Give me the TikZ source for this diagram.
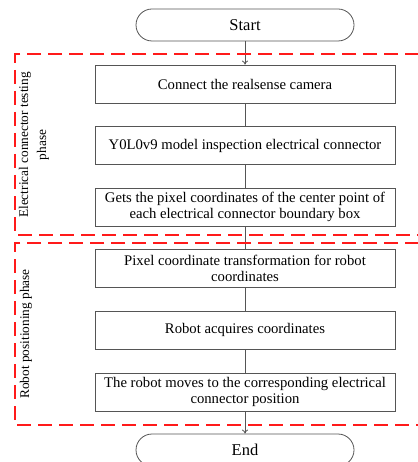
\documentclass[tikz,border=0pt]{standalone}
\usepackage{fontspec}
\setmainfont{Liberation Serif}
\usetikzlibrary{arrows.meta}
\definecolor{lineg}{HTML}{555555}
\definecolor{phred}{HTML}{FF1A1A}
\tikzset{
  stepbox/.style={draw=lineg, line width=0.8pt, minimum width=300pt, minimum height=38pt, inner sep=2pt, align=center, font=\fontsize{14.7}{16}\selectfont, fill=white},
  term/.style={draw=lineg, line width=0.8pt, rounded corners=16pt, minimum width=218pt, minimum height=32pt, font=\fontsize{16.5}{18}\selectfont, fill=white},
  conn/.style={draw=lineg, line width=0.8pt},
  arr/.style={conn, -{To[length=4pt,width=6pt]}},
  phase/.style={draw=phred, line width=2pt, dash pattern=on 14pt off 7pt},
  plabel/.style={rotate=90, align=center, font=\fontsize{13.3}{18}\selectfont}
}
\begin{document}
\begin{tikzpicture}[x=1pt,y=-1pt]
\useasboundingbox (0,0) rectangle (417,462);
\node[term] (start) at (245,25) {Start};
\node[stepbox] (b1) at (245,84) {Connect the realsense camera};
\node[stepbox] (b2) at (245,145.5) {Y0L0v9 model inspection electrical connector};
\node[stepbox] (b3) at (245,207) {Gets the pixel coordinates of the center point of\\each electrical connector boundary box};
\node[stepbox] (b4) at (245,268.5) {Pixel coordinate transformation for robot\\coordinates};
\node[stepbox] (b5) at (245,330) {Robot acquires coordinates};
\node[stepbox] (b6) at (245,392) {The robot moves to the corresponding electrical\\connector position};
\node[term] (end) at (245,450) {End};
\draw[arr] (start) -- (b1);
\draw[conn] (b1) -- (b2);
\draw[conn] (b2) -- (b3);
\draw[conn] (b3) -- (b4);
\draw[conn] (b4) -- (b5);
\draw[conn] (b5) -- (b6);
\draw[arr] (b6) -- (end);
\draw[phase] (440,54) -- (15,54) -- (15,235) -- (440,235);
\draw[phase] (440,243) -- (15,243) -- (15,425) -- (440,425);
\node[plabel] (l1) at (34,145) {Electrical connector testing\\phase};
\node[plabel] (l2) at (26,334) {Robot positioning phase};
\end{tikzpicture}
\end{document}
